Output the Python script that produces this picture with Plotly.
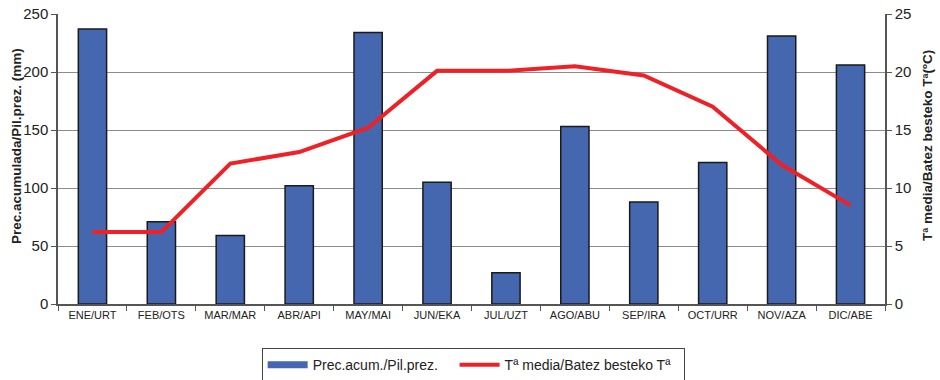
import plotly.graph_objects as go

months = ["ENE/URT", "FEB/OTS", "MAR/MAR", "ABR/API", "MAY/MAI", "JUN/EKA",
          "JUL/UZT", "AGO/ABU", "SEP/IRA", "OCT/URR", "NOV/AZA", "DIC/ABE"]
precip = [237, 71, 59, 102, 234, 105, 27, 153, 88, 122, 231, 206]
temp = [6.2, 6.2, 12.1, 13.1, 15.2, 20.1, 20.1, 20.5, 19.7, 17.0, 12.0, 8.5]

y1_ticks = [0, 50, 100, 150, 200, 250]
y2_ticks = [0, 5, 10, 15, 20, 25]

bar_color = "#4467B0"
line_color = "#EE2127"

fig = go.Figure()
fig.add_trace(go.Bar(
    x=months, y=precip, name="Prec.acum./Pil.prez.",
    marker=dict(color=bar_color, line=dict(color="#1a1a1a", width=1.5)),
    yaxis="y", showlegend=False,
))
fig.add_trace(go.Scatter(
    x=months, y=temp, name="Tª media/Batez besteko Tª",
    mode="lines", line=dict(color=line_color, width=4),
    yaxis="y2", showlegend=False,
))
# legend entries (rectangle-like swatch for bars)
fig.add_trace(go.Scatter(
    x=[None], y=[None], name="Prec.acum./Pil.prez.\u00a0\u00a0\u00a0", mode="lines",
    line=dict(color=bar_color, width=7), yaxis="y",
))
fig.add_trace(go.Scatter(
    x=[None], y=[None], name="Tª media/Batez besteko Tª\u00a0\u00a0", mode="lines",
    line=dict(color=line_color, width=4), yaxis="y2",
))

font_family = "Liberation Sans, Arial, sans-serif"
fig.update_layout(
    width=940, height=380,
    margin=dict(l=58, r=55, t=14, b=76, autoexpand=False),
    paper_bgcolor="white", plot_bgcolor="white",
    font=dict(family=font_family, color="#222"),
    bargap=0.59,
    showlegend=True,
    legend=dict(orientation="h", x=0.502, xanchor="center", y=-0.152, yanchor="top",
                bordercolor="#444", borderwidth=1, font=dict(size=14),
                itemwidth=40, tracegroupgap=0),
    xaxis=dict(
        automargin=False,
        tickfont=dict(size=11, color="#222"),
        showline=True, linecolor="#555", linewidth=1.5,
        ticks="outside", tickson="boundaries", ticklen=5, tickcolor="#555",
        showgrid=False,
    ),
    yaxis=dict(
        automargin=False,
        range=[0, 250], tickvals=y1_ticks,
        tickfont=dict(size=15, color="#222"),
        showline=True, linecolor="#555", linewidth=1.5,
        ticks="outside", ticklen=5, tickcolor="#555",
        showgrid=True, gridcolor="#8c8c8c", gridwidth=1.2,
        zeroline=False,
    ),
    yaxis2=dict(
        automargin=False,
        range=[0, 25], tickvals=y2_ticks, overlaying="y", side="right",
        tickfont=dict(size=15, color="#222"),
        showline=True, linecolor="#555", linewidth=1.5,
        ticks="outside", ticklen=5, tickcolor="#555",
        showgrid=False, zeroline=False,
    ),
    annotations=[
        dict(text="<b>Prec.acumulada/Pil.prez. (mm)</b>", xref="paper", yref="paper",
             x=(17 - 58) / 827, y=0.545, xanchor="center", yanchor="middle",
             textangle=-90, showarrow=False, font=dict(size=13.5, color="#222")),
        dict(text="<b>Tª media/Batez besteko Tª(ºC)</b>", xref="paper", yref="paper",
             x=(928 - 58) / 827, y=0.545, xanchor="center", yanchor="middle",
             textangle=-90, showarrow=False, font=dict(size=13.5, color="#222")),
    ],
)

fig.write_html("out.html", config={"displayModeBar": False},
               post_script="document.body.style.margin='0';document.body.style.overflow='hidden';")
